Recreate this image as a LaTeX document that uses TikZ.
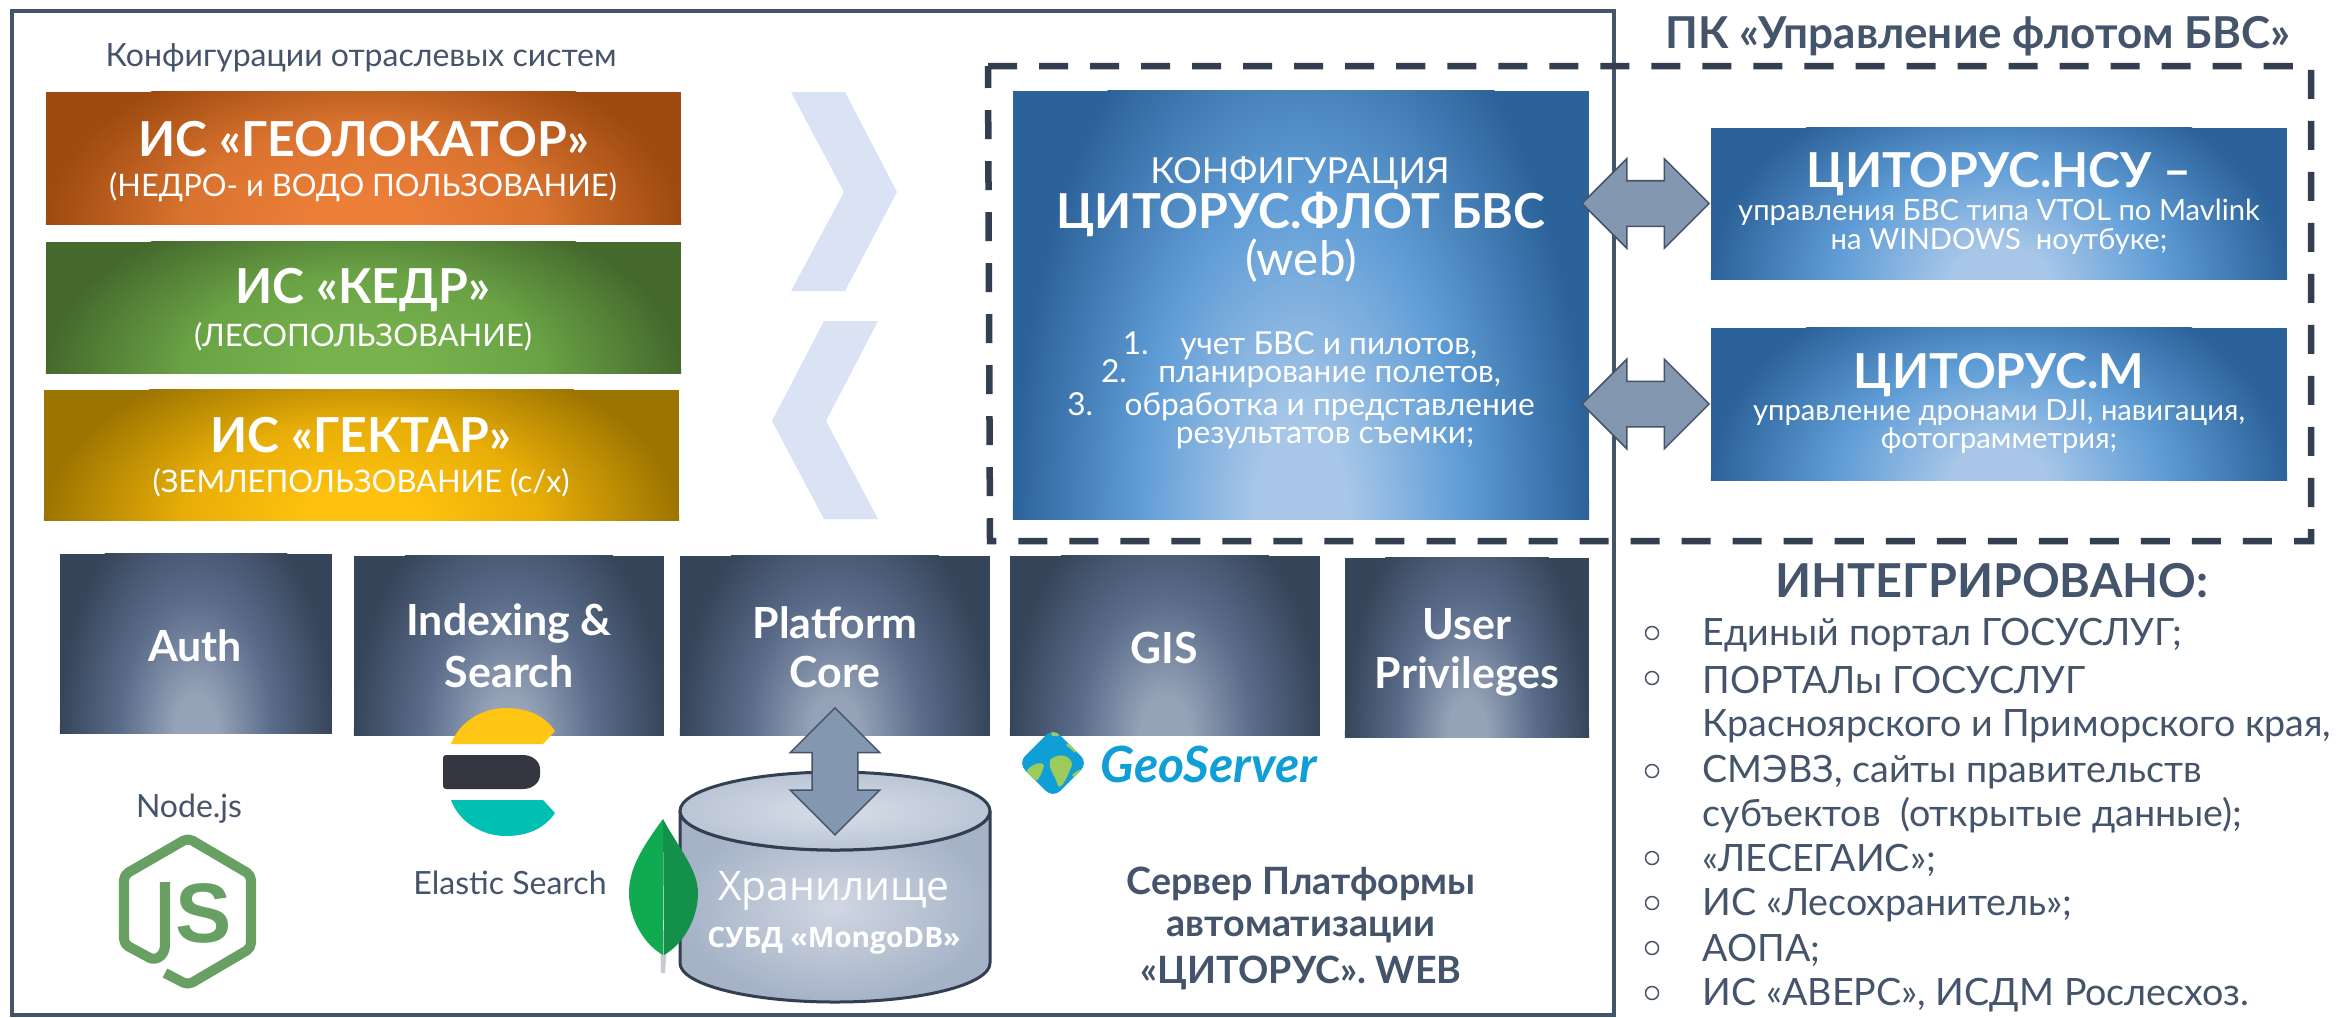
\documentclass[tikz,border=0pt]{standalone}
\usepackage{fontspec}
\setmainfont{Lato}
\newfontfamily\logofont{Liberation Sans}
\newfontfamily\storefont{Open Sans}
\usepackage{tikz}
\usetikzlibrary{positioning}
\usetikzlibrary{calc}
\usetikzlibrary{shapes.arrows}
\definecolor{slate}{HTML}{44546A}
\definecolor{navy}{HTML}{333F50}
\definecolor{arrowfill}{HTML}{8497B0}
\definecolor{chevron}{HTML}{DAE3F3}
\definecolor{mongoA}{HTML}{10AA50}
\definecolor{mongoB}{HTML}{13904A}
\definecolor{nodegreen}{HTML}{68A063}
\definecolor{elasticA}{HTML}{FEC514}
\definecolor{elasticB}{HTML}{343741}
\definecolor{elasticC}{HTML}{00BFB3}
\definecolor{geoblue}{HTML}{0F9FD6}
\definecolor{geogreen}{HTML}{9CCB5C}
\definecolor{cylA}{HTML}{D0D7E3}
\definecolor{cylB}{HTML}{A6B3C7}
\definecolor{capA}{HTML}{D8DEE8}
\definecolor{capB}{HTML}{BAC5D5}
\newcommand\addglow[4]{
  \pgfdeclareradialshading{#1}{\pgfpointorigin}{color(0bp)=(#2); color(4bp)=(#2); color(14bp)=(#3); color(25bp)=(#4); color(50bp)=(#4)}
}
\definecolor{geoA}{HTML}{EC7E38}\definecolor{geoB}{HTML}{D9732F}\definecolor{geoC}{HTML}{9E4A10}
\definecolor{kedrA}{HTML}{78B24E}\definecolor{kedrB}{HTML}{6AA345}\definecolor{kedrC}{HTML}{45692D}
\definecolor{gekA}{HTML}{FFC20E}\definecolor{gekB}{HTML}{E8AE08}\definecolor{gekC}{HTML}{9C7400}
\definecolor{blueA}{HTML}{A8C7E8}\definecolor{blueB}{HTML}{609DD6}\definecolor{blueC}{HTML}{2B6299}
\definecolor{darkA}{HTML}{95A2B7}\definecolor{darkB}{HTML}{5A6C8A}\definecolor{darkC}{HTML}{37455A}
\addglow{geoglow}{geoA}{geoB}{geoC}
\addglow{kedrglow}{kedrA}{kedrB}{kedrC}
\addglow{gekglow}{gekA}{gekB}{gekC}
\addglow{blueglow}{blueA}{blueB}{blueC}
\addglow{darkglow}{darkA}{darkB}{darkC}
\tikzset{
  glowbox/.style 2 args={inner sep=0, fill=#2, path picture={
    \shade[shading=#1] let \p1=($(path picture bounding box.north east)-(path picture bounding box.south)$)
      in (path picture bounding box.south) ellipse ({\x1} and {1.35*\y1});
  }},
  txt/.style={inner sep=0, text=white},
  hugetxt/.style={txt, font=\fontsize{13.7}{16}\selectfont\bfseries},
  subtxt/.style={txt, font=\fontsize{8.8}{10}\selectfont},
  smalltxt/.style={txt, font=\fontsize{8.3}{10}\selectfont},
  listsmall/.style={txt, font=\fontsize{9}{10}\selectfont},
  tagtxt/.style={txt, font=\fontsize{12.2}{14}\selectfont\bfseries},
  darktxt/.style={inner sep=0, text=slate, font=\fontsize{9.1}{11}\selectfont},
  captxt/.style={inner sep=0, text=slate, font=\fontsize{10.7}{13}\selectfont\bfseries},
  listtxt/.style={inner sep=0, anchor=west, text=slate, font=\fontsize{10.7}{13}\selectfont},
  listdot/.style={circle, draw=slate, line width=0.015cm, minimum size=0.13cm, inner sep=0},
  blockarrow/.style={double arrow, double arrow head extend=0.22cm, double arrow head indent=0pt,
    minimum width=0.88cm, minimum height=1.27cm, inner xsep=0, inner ysep=0.22cm, fill=arrowfill, draw=slate, line width=0.015cm},
}
\begin{document}
\begin{tikzpicture}[x=0.01cm, y=-0.01cm]
\useasboundingbox (0,0) rectangle (2336,1017);
\fill[white] (0,0) rectangle (2336,1017);
\draw[slate, line width=0.04cm] (12,11) rectangle (1614,1015);
\draw[navy, line width=0.065cm, dash pattern=on 0.29cm off 0.22cm] (988,66)--(2311,66)--(2311,541)--(990,541)--cycle;

\node[darktxt] (configcap) at (361,58) {Конфигурации отраслевых систем};
\node[glowbox={geoglow}{geoC}, minimum width=6.35cm, minimum height=1.32cm] (geobox) at (363.5,158) {};
\node[glowbox={kedrglow}{kedrC}, minimum width=6.35cm, minimum height=1.31cm] (kedrbox) at (363.5,307.5) {};
\node[glowbox={gekglow}{gekC}, minimum width=6.35cm, minimum height=1.30cm] (gekbox) at (361.5,455) {};
\node[hugetxt] (geotitle) at (364,139) {ИС «ГЕОЛОКАТОР»};
\node[subtxt] (geosub) at (363,187) {(НЕДРО- и ВОДО ПОЛЬЗОВАНИЕ)};
\node[hugetxt] (kedrtitle) at (363,290) {ИС «КЕДР»};
\node[subtxt] (kedrsub) at (363,337) {(ЛЕСОПОЛЬЗОВАНИЕ)};
\node[hugetxt] (gektitle) at (361,435) {ИС «ГЕКТАР»};
\node[subtxt] (geksub) at (361,483) {(ЗЕМЛЕПОЛЬЗОВАНИЕ (с/х)};

\fill[chevron] (791,92)--(845,92)--(897,192)--(845,291)--(791,291)--(844,192)--cycle;
\fill[chevron] (824,321)--(878,321)--(826,421)--(878,519)--(824,519)--(772,421)--cycle;

\node[glowbox={blueglow}{blueC}, minimum width=5.76cm, minimum height=4.28cm] (flotbox) at (1301,305) {};
\node[txt, font=\fontsize{10.2}{12}\selectfont] (flotcap) at (1300,173) {КОНФИГУРАЦИЯ};
\node[hugetxt] (flottitle) at (1301,214) {ЦИТОРУС.ФЛОТ БВС};
\node[txt, font=\fontsize{13.5}{16}\selectfont] (flotweb) at (1301,261) {(web)};
\node[listsmall] (flotone) at (1300,346) {1.\quad учет БВС и пилотов,};
\node[listsmall] (flottwo) at (1301,374) {2.\quad планирование полетов,};
\node[listsmall] (flotthree) at (1301,407) {3.\quad обработка и представление};
\node[listsmall] (flotfour) at (1325,438) {результатов съемки;};

\node[glowbox={blueglow}{blueC}, minimum width=5.76cm, minimum height=1.51cm] (nsubox) at (1999,203.5) {};
\node[glowbox={blueglow}{blueC}, minimum width=5.76cm, minimum height=1.52cm] (mbox) at (1999,404) {};
\node[hugetxt] (nsutitle) at (1999,174) {ЦИТОРУС.НСУ --};
\node[smalltxt] (nsuone) at (1999,212) {управления БВС типа VTOL по Mavlink};
\node[smalltxt] (nsutwo) at (1999,241) {на WINDOWS\ \ ноутбуке;};
\node[hugetxt] (mtitle) at (1999,375) {ЦИТОРУС.М};
\node[smalltxt] (mone) at (1999,413) {управление дронами DJI, навигация,};
\node[smalltxt] (mtwo) at (1999,441) {фотограмметрия;};
\node[blockarrow, left=0pt of nsubox] (nsuarrow) {};
\node[blockarrow, left=0pt of mbox] (marrow) {};
\node[inner sep=0, text=slate, font=\fontsize{12.5}{15}\selectfont\bfseries] (pktitle) at (1978,36) {ПК «Управление флотом БВС»};

\node[glowbox={darkglow}{darkC}, minimum width=2.72cm, minimum height=1.79cm] (authbox) at (196,643.5) {};
\node[glowbox={darkglow}{darkC}, minimum width=3.10cm, minimum height=1.79cm] (indexbox) at (509,645.5) {};
\node[glowbox={darkglow}{darkC}, minimum width=3.10cm, minimum height=1.79cm] (corebox) at (835,645.5) {};
\node[glowbox={darkglow}{darkC}, minimum width=3.10cm, minimum height=1.79cm] (gisbox) at (1165,645.5) {};
\node[glowbox={darkglow}{darkC}, minimum width=2.44cm, minimum height=1.79cm] (userbox) at (1467,647.5) {};
\node[tagtxt] (authtxt) at (195,646) {Auth};
\node[tagtxt] (indextxt) at (509,623) {Indexing \&};
\node[tagtxt] (searchtxt) at (509,672) {Search};
\node[tagtxt] (platformtxt) at (835,623) {Platform};
\node[tagtxt] (coretxt) at (835,672) {Core};
\node[tagtxt] (gistxt) at (1164,648) {GIS};
\node[tagtxt] (usertxt) at (1467,624) {User};
\node[tagtxt] (privtxt) at (1467,676) {Privileges};

\shade[inner color=cylA, outer color=cylB, draw=navy, line width=0.03cm]
  (680,811) -- (680,963) arc[start angle=180, end angle=0, x radius=155, y radius=39] -- (990,811)
  arc[start angle=0, end angle=180, x radius=155, y radius=39] -- cycle;
\shade[inner color=capA, outer color=capB, draw=navy, line width=0.03cm] (835,811) ellipse (155 and 39);
\node[blockarrow, shape border rotate=90, inner xsep=0.22cm, inner ysep=0, below=-0.29cm of corebox] (corearrow) {};
\node[txt, font=\fontsize{11.6}{14}\storefont\selectfont] (storetxt) at (834,891) {Хранилище};
\node[txt, font=\fontsize{8}{10}\storefont\selectfont\bfseries] (mongotxt) at (834,941) {СУБД «MongoDB»};

\fill[white!70!slate] (660,930) -- (668,930) -- (665,973) -- (661,973) -- cycle;
\fill[mongoA] (663,819) .. controls (640,850) and (629,870) .. (629,893) .. controls (629,920) and (645,945) .. (663,955) -- cycle;
\fill[mongoB] (663,819) .. controls (680,850) and (698,870) .. (698,893) .. controls (698,920) and (682,945) .. (664,955) -- cycle;

\fill[elasticA] (451,744) .. controls (459,722) and (482,708) .. (506,708) .. controls (528,708) and (545,716) .. (555,731) -- (543,744) -- cycle;
\fill[elasticC] (451,800) .. controls (459,822) and (482,836) .. (506,836) .. controls (528,836) and (545,828) .. (555,813) -- (543,800) -- cycle;
\fill[elasticB, rounded corners=0.03cm] (443,755) -- (520,755) .. controls (533,755) and (540,762) .. (540,772) .. controls (540,782) and (533,789) .. (520,789) -- (443,789) -- cycle;
\node[darktxt] (elastictxt) at (510,883) {Elastic Search};

\node[darktxt] (nodetxt) at (189,809) {Node.js};
\draw[nodegreen, line width=0.1cm, line join=round] (165,882) -- (165,945) .. controls (165,955) and (157,961) .. (150,958) [rounded corners=0.05cm] -- (124,944) -- (124,875) -- (188,838) -- (251,875) -- (251,948) -- (188,985) -- (165,973);
\node[inner sep=0, text=nodegreen, font=\fontsize{24}{24}\selectfont\logofont\bfseries] (nodes) at (204,913) {S};

\begin{scope}
\clip[rounded corners=0.1cm] (1053,728) -- (1088,763) -- (1053,798) -- (1018,763) -- cycle;
\fill[geoblue] (1000,720) rectangle (1100,810);
\fill[geogreen] (1027,770) .. controls (1035,762) and (1042,762) .. (1044,765) .. controls (1042,775) and (1036,785) .. (1030,782) -- cycle;
\fill[geogreen] (1050,760) .. controls (1058,752) and (1072,755) .. (1072,765) .. controls (1068,775) and (1062,790) .. (1058,786) .. controls (1056,776) and (1048,770) .. (1050,760) -- cycle;
\fill[geogreen] (1072,775) .. controls (1076,770) and (1084,768) .. (1085,770) .. controls (1080,778) and (1074,780) .. (1072,775) -- cycle;
\fill[geogreen] (1050,728) -- (1062,728) -- (1058,736) -- (1052,736) -- cycle;
\fill[geogreen] (1066,745) -- (1074,738) -- (1084,752) -- (1074,752) -- cycle;
\end{scope}
\node[inner sep=0, text=geoblue, font=\fontsize{14.2}{17}\selectfont\bfseries\itshape] (geotxt) at (1209,764) {GeoServer};

\node[captxt] (srvone) at (1301,884) {Сервер Платформы};
\node[captxt] (srvtwo) at (1301,930) {автоматизации};
\node[captxt] (srvthree) at (1301,973) {«ЦИТОРУС». WEB};

\node[inner sep=0, text=slate, font=\fontsize{13.3}{16}\selectfont\bfseries] (integtitle) at (1992,581) {ИНТЕГРИРОВАНО:};
\foreach \y/\nm in {633/a,678/b,771/c,858/d,903/e,948/f,993/g}
  \node[listdot] (dot\nm) at (1652,\y) {};
\node[listtxt] (lia) at (1702,635) {Единый портал ГОСУСЛУГ;};
\node[listtxt] (lib) at (1702,680) {ПОРТАЛы ГОСУСЛУГ};
\node[listtxt] (lic) at (1702,726) {Красноярского и Приморского края,};
\node[listtxt] (lid) at (1702,772) {СМЭВЗ, сайты правительств};
\node[listtxt] (lie) at (1702,815) {субъектов\ \ (открытые данные);};
\node[listtxt] (lif) at (1702,860) {«ЛЕСЕГАИС»;};
\node[listtxt] (lig) at (1702,905) {ИС «Лесохранитель»;};
\node[listtxt] (lih) at (1702,950) {АОПА;};
\node[listtxt] (lii) at (1702,995) {ИС «АВЕРС», ИСДМ Рослесхоз.};
\end{tikzpicture}
\end{document}
